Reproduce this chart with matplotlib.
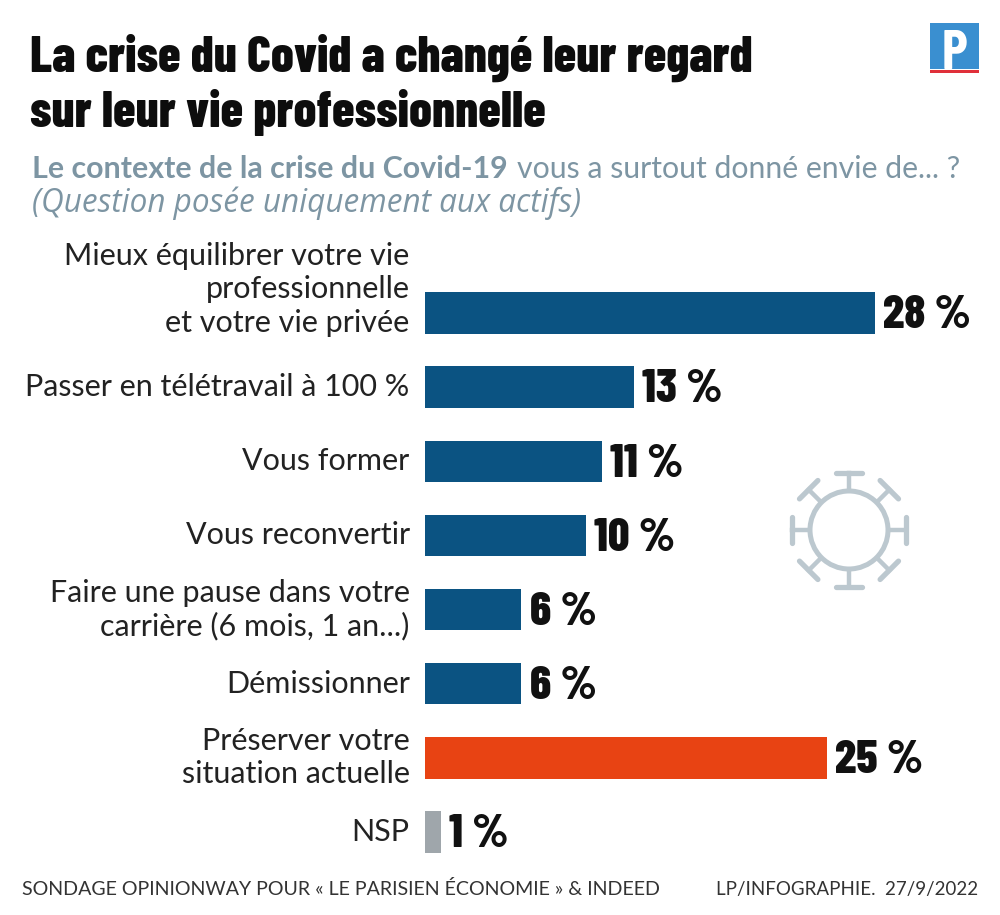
import numpy as np
import matplotlib
matplotlib.use('Agg')
import matplotlib.pyplot as plt
from matplotlib.patches import Circle, Rectangle

categories = ['Mieux équilibrer votre vie\nprofessionnelle\net votre vie privée',
              'Passer en télétravail à 100 %',
              'Vous former',
              'Vous reconvertir',
              'Faire une pause dans votre\ncarrière (6 mois, 1 an...)',
              'Démissionner',
              'Préserver votre\nsituation actuelle',
              'NSP']
valeurs = [28, 13, 11, 10, 6, 6, 25, 1]
etiquettes = ['28 %', '13 %', '11 %', '10 %', '6 %', '6 %', '25 %', '1 %']
couleurs = ['#0b5382'] * 6 + ['#e84313', '#9fa6ab']

fig = plt.figure(figsize=(10, 9.15), dpi=100)
W, H = 1000, 915
ETROIT = ['Barlow Condensed', 'Roboto']

def fy(y):
    return 1 - y / H

# zone des barres : x 425-875 px pour 28 %
ax = fig.add_axes([425 / W, fy(869), 560 / W, (869 - 276) / H])
pos = np.arange(len(valeurs))
ax.barh(pos, valeurs, height=0.56, color=couleurs)
ax.set_xlim(0, 560 / (450 / 28))
ax.set_ylim(len(valeurs) - 0.5, -0.5)
ax.axis('off')

for p, v, e, c in zip(pos, valeurs, etiquettes, categories):
    ax.annotate(e, (v, p), xytext=(6, -2), textcoords='offset points',
                va='center', ha='left', fontsize=34, fontweight=800,
                family=ETROIT, color='#111111')
    # le libelle sur 3 lignes remonte au-dessus de sa barre
    dy = 17 if c.count('\n') == 2 else 0
    ax.annotate(c, (0, p), xytext=(-11, dy), textcoords='offset points',
                va='center', ha='right', fontsize=22, family='Lato', color='#222222',
                linespacing=1.22)

fig.text(30 / W, fy(72), 'La crise du Covid a changé leur regard', fontsize=36.5, fontweight=800,
         family=ETROIT, color='#0d0d0d', va='baseline')
fig.text(30 / W, fy(127), 'sur leur vie professionnelle', fontsize=36.5, fontweight=800,
         family=ETROIT, color='#0d0d0d', va='baseline')
fig.text(32 / W, fy(178), 'Le contexte de la crise du Covid-19', fontsize=21.9, fontweight='bold',
         family='Lato', color='#7d95a3', va='baseline')
fig.text(517 / W, fy(178), 'vous a surtout donné envie de... ?', fontsize=21.8,
         family='Lato', color='#7d95a3', va='baseline')
fig.text(32 / W, fy(212), '(Question posée uniquement aux actifs)', fontsize=22.7, style='italic',
         family='Open Sans', color='#7d95a3', va='baseline')
fig.text(22 / W, fy(895), 'SONDAGE OPINIONWAY POUR « LE PARISIEN ÉCONOMIE » & INDEED', fontsize=14.1,
         family='Lato', color='#333333', va='baseline')
fig.text(978 / W, fy(895), 'LP/INFOGRAPHIE.  27/9/2022', fontsize=13.5, ha='right',
         family='Lato', color='#333333', va='baseline')

# logo
over = fig.add_axes([0, 0, 1, 1])
over.set_xlim(0, W)
over.set_ylim(H, 0)
over.axis('off')
over.patch.set_alpha(0)
over.add_patch(Rectangle((930, 23), 49, 46, color='#3a8fd0', lw=0))
over.add_patch(Rectangle((930, 70), 49, 3, color='#e0303a', lw=0))
over.text(955, 69, 'P', color='white', fontsize=40, fontweight='bold', family=ETROIT,
          ha='center', va='baseline')

# virus
cx, cy = 849, 530
gris = '#bcc8cf'
over.add_patch(Circle((cx, cy), 39, fill=False, ec=gris, lw=3.6))
for a in np.arange(0, 360, 45):
    r = np.deg2rad(a)
    d = np.array([np.cos(r), np.sin(r)])
    n = np.array([-d[1], d[0]])
    p0 = np.array([cx, cy]) + d * 41
    p1 = np.array([cx, cy]) + d * 57
    over.plot([p0[0], p1[0]], [p0[1], p1[1]], color=gris, lw=3.2)
    over.plot([p1[0] - n[0] * 13, p1[0] + n[0] * 13], [p1[1] - n[1] * 13, p1[1] + n[1] * 13],
              color=gris, lw=3.8, solid_capstyle='round')

fig.savefig('out.png', dpi=100)
